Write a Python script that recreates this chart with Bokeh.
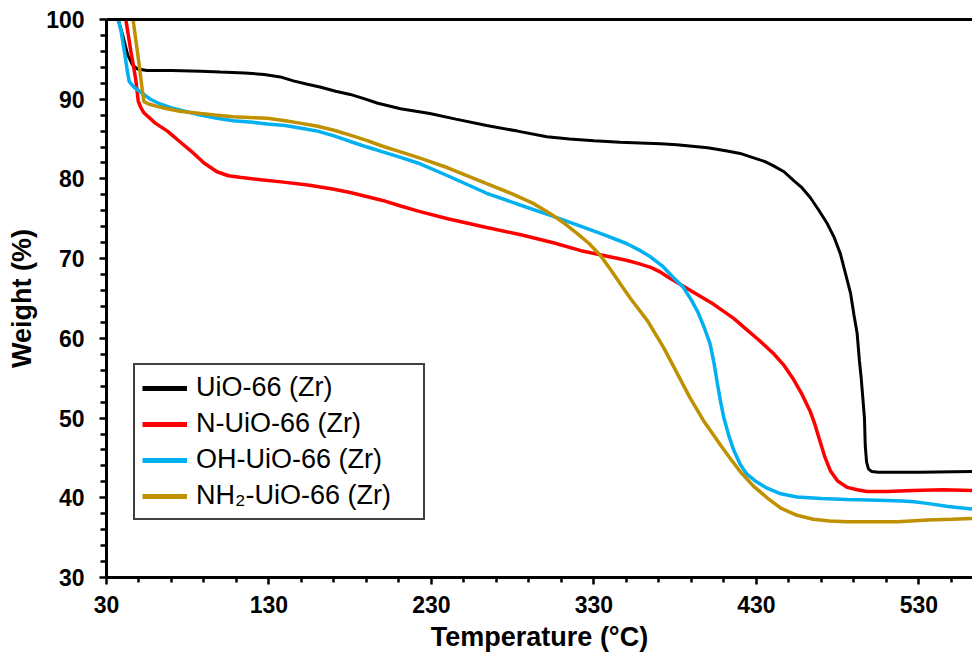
from bokeh.plotting import figure
from bokeh.models import FixedTicker, LinearAxis, Legend, LegendItem, Range1d
from bokeh.embed import file_html
from bokeh.resources import INLINE

# ---------------- data ----------------
uio_T = [36.5, 40, 43, 46, 49, 55, 70, 88, 100, 115, 127, 137, 145, 153, 162, 171, 180, 188, 197,
         211, 229, 245, 264, 283, 301, 315, 330, 346, 371, 381, 400, 412, 420, 426, 435, 440, 447,
         453, 458, 463, 468, 473.6, 478, 481.7, 485, 488, 490, 492, 493.4, 494.5, 495.5, 496.5,
         497, 497.8, 499, 501, 505, 530, 563]
uio_W = [100.5, 98, 95.6, 94.3, 93.8, 93.6, 93.6, 93.5, 93.4, 93.3, 93.1, 92.8, 92.3, 91.9, 91.5,
         91.0, 90.6, 90.1, 89.5, 88.8, 88.2, 87.5, 86.7, 86.0, 85.3, 85.0, 84.8, 84.6, 84.4, 84.3,
         83.9, 83.5, 83.2, 82.8, 82.2, 81.7, 80.9, 79.8, 78.9, 77.7, 76.2, 74.4, 72.6, 70.6, 68.0,
         65.6, 63.0, 60.6, 57.2, 55.0, 52.5, 50.0, 46.5, 44.5, 43.6, 43.3, 43.2, 43.2, 43.3]

n_T = [41.5, 45, 48, 49.5, 51, 53, 60, 67.5, 75, 83.7, 90, 98, 105, 112, 125, 139, 155, 170, 180,
       190, 200, 211, 223, 240, 264, 285, 305, 322, 336, 350, 357, 365, 371, 377, 383, 392, 403.5,
       416, 424, 432, 440.5, 447, 453, 458, 463, 466, 469, 472, 475.5, 480, 486, 492, 498, 510,
       526, 545, 563]
n_W = [100.5, 96, 92.5, 89.8, 89.0, 88.3, 87.0, 86.0, 84.7, 83.2, 82.0, 80.9, 80.4, 80.2, 79.9,
       79.6, 79.2, 78.7, 78.3, 77.8, 77.3, 76.6, 75.9, 75.0, 73.9, 73.0, 72.0, 71.0, 70.4, 69.8,
       69.4, 68.9, 68.3, 67.5, 66.8, 65.7, 64.3, 62.5, 61.1, 59.7, 58.1, 56.6, 54.8, 53.0, 50.9,
       49.2, 47.2, 45.2, 43.4, 42.1, 41.3, 41.0, 40.8, 40.8, 40.9, 41.0, 40.9]

oh_T = [36.5, 39, 41, 43, 44, 47, 51, 57, 63, 70, 80, 88, 98, 108, 120, 129, 140, 149, 160, 170,
        180, 190.5, 200, 211, 223, 240, 264, 285, 305, 320, 336, 350, 358.6, 365, 372, 379, 385,
        390, 394, 398, 401.5, 404, 406, 408, 410, 413, 416, 420, 424, 430, 436.6, 445, 455, 470,
        486, 505, 520, 527, 535, 548, 563]
oh_W = [100.5, 98.5, 96, 93.3, 92.2, 91.5, 90.9, 90.0, 89.4, 88.9, 88.4, 88.0, 87.6, 87.3, 87.1,
        86.9, 86.7, 86.4, 86.0, 85.4, 84.7, 84.0, 83.4, 82.7, 81.9, 80.4, 78.2, 76.7, 75.3, 74.2,
        73.0, 71.9, 71.0, 70.2, 69.1, 67.6, 66.4, 64.8, 63.3, 61.3, 59.3, 56.8, 54.3, 52.0, 50.0,
        47.8, 46.0, 44.2, 43.0, 42.0, 41.2, 40.5, 40.1, 39.9, 39.8, 39.7, 39.6, 39.5, 39.3, 38.9,
        38.6]

nh2_T = [46, 48, 50, 52, 53, 56, 61, 67.5, 75, 88, 98, 108, 118, 129, 140, 149, 160, 170, 180,
         190.5, 200, 211, 223, 240, 264, 280, 293, 305, 312, 320, 327, 334, 340, 346, 352.5, 363,
         373, 381, 389, 398, 408, 414, 420, 428, 436.6, 445, 455, 465, 475, 486, 500, 517, 535,
         550, 563]
nh2_W = [100.5, 97.5, 94.5, 91.2, 89.7, 89.4, 89.1, 88.8, 88.5, 88.2, 88.0, 87.8, 87.7, 87.6,
         87.3, 87.0, 86.6, 86.1, 85.5, 84.8, 84.1, 83.4, 82.6, 81.4, 79.4, 78.1, 76.9, 75.4, 74.4,
         73.1, 71.9, 70.4, 68.7, 66.9, 65.0, 62.2, 58.8, 55.7, 52.6, 49.5, 46.6, 44.9, 43.3, 41.5,
         40.0, 38.7, 37.8, 37.3, 37.1, 37.0, 37.0, 37.0, 37.2, 37.3, 37.4]

series_names = ["UiO-66 (Zr)", "N-UiO-66 (Zr)", "OH-UiO-66 (Zr)", "NH\u2082-UiO-66 (Zr)"]
series_colors = ["#000000", "#FF0000", "#00B0F0", "#BF9000"]

x_ticks = [30, 130, 230, 330, 430, 530]
x_minor = [50, 70, 90, 110, 150, 170, 190, 210, 250, 270, 290, 310, 350, 370, 390, 410,
           450, 470, 490, 510, 550]
y_ticks = [30, 40, 50, 60, 70, 80, 90, 100]
y_minor = [v for v in range(32, 100, 2) if v % 10 != 0]

# ---------------- figure ----------------
FONT = "Liberation Sans"
p = figure(width=972, height=655, output_backend="svg", toolbar_location=None,
           x_range=Range1d(30, 563), y_range=Range1d(30, 100),
           min_border_left=106, min_border_right=0, min_border_top=19, min_border_bottom=78)
p.outline_line_color = None
p.grid.visible = False
p.background_fill_color = "white"
p.border_fill_color = "white"

data = [(uio_T, uio_W), (n_T, n_W), (oh_T, oh_W), (nh2_T, nh2_W)]
widths = [3, 3.5, 3.5, 3.5]
for (tx, wy), c, w in zip(data, series_colors, widths):
    p.line(tx, wy, line_color=c, line_width=w)

# axes
p.xaxis.ticker = FixedTicker(ticks=x_ticks, minor_ticks=x_minor)
p.yaxis.ticker = FixedTicker(ticks=y_ticks, minor_ticks=y_minor)
for ax in (p.xaxis[0], p.yaxis[0]):
    ax.axis_line_width = 3
    ax.axis_line_color = "black"
    ax.major_tick_line_width = 2.5
    ax.minor_tick_line_width = 2.5
    ax.major_tick_line_color = "black"
    ax.minor_tick_line_color = "black"
    ax.major_tick_in = 0
    ax.minor_tick_in = 0
    ax.major_tick_out = 7
    ax.major_label_text_font = FONT
    ax.major_label_text_font_style = "bold"
    ax.major_label_text_font_size = "23px"
    ax.major_label_text_color = "black"
    ax.axis_label_text_font = FONT
    ax.axis_label_text_font_style = "bold"
    ax.axis_label_text_font_size = "27px"
    ax.axis_label_text_color = "black"

p.xaxis.minor_tick_out = 5
p.yaxis.minor_tick_out = 6
p.xaxis.axis_label = "Temperature (\u00b0C)"
p.yaxis.axis_label = "Weight (%)"
p.xaxis.major_label_standoff = 11
p.yaxis.major_label_standoff = 15
p.xaxis.axis_label_standoff = 6
p.yaxis.axis_label_standoff = 6

top = LinearAxis(ticker=FixedTicker(ticks=[]), axis_line_width=3, axis_line_color="black",
                 major_tick_out=0, minor_tick_out=0, major_label_standoff=0,
                 major_label_text_font_size="0px")
p.add_layout(top, "above")

# legend (thicker sample lines, as in the reference)
nan = float("nan")
items = []
for name, c in zip(series_names, series_colors):
    r = p.line([nan], [nan], line_color=c, line_width=5)
    items.append(LegendItem(label=name, renderers=[r]))
legend = Legend(items=items, location=(27, 57), margin=0, padding=7, spacing=5,
                glyph_width=45, glyph_height=30, label_height=30, label_width=220,
                label_standoff=9, label_text_font=FONT, label_text_font_size="27px",
                label_text_color="black", border_line_color="#404040", border_line_width=2,
                border_line_alpha=1.0,
                background_fill_color="white", background_fill_alpha=1)
p.add_layout(legend)

open("out.html", "w").write(file_html(p, INLINE))
